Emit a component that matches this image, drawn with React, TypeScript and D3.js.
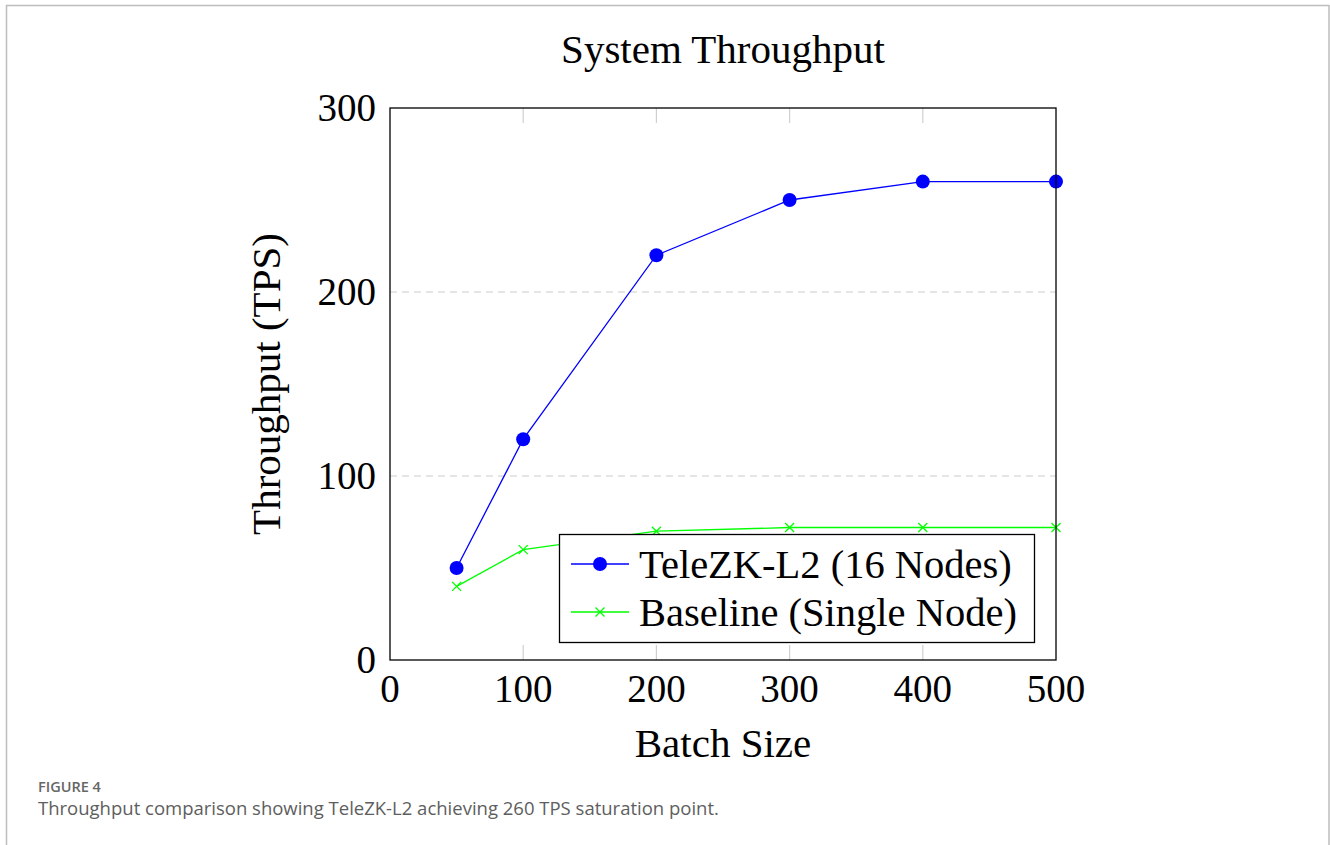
import React, { useEffect, useRef } from "react";
import * as d3 from "d3";

// data
const batchSizes = [50, 100, 200, 300, 400, 500];
const telezk = [50, 120, 220, 250, 260, 260];
const baseline = [40, 60, 70, 72, 72, 72];
const xTicks = [0, 100, 200, 300, 400, 500];
const yTicks = [0, 100, 200, 300];
const seriesNames = ["TeleZK-L2 (16 Nodes)", "Baseline (Single Node)"];

const SERIF = "'Liberation Serif', 'DejaVu Serif', serif";

const App = () => {
  const svgRef = useRef<SVGSVGElement | null>(null);

  const W = 1330;
  const H = 845;
  const plot = { left: 390, top: 108, right: 1056, bottom: 660 };

  useEffect(() => {
    const svg = d3.select(svgRef.current);
    svg.selectAll("*").remove();

    // outer frame of the figure
    svg.append("line").attr("x1", 6).attr("y1", 5.5).attr("x2", 1329).attr("y2", 5.5)
      .attr("stroke", "#bdbdbd").attr("stroke-width", 1.5);
    svg.append("line").attr("x1", 6.5).attr("y1", 5).attr("x2", 6.5).attr("y2", H)
      .attr("stroke", "#bdbdbd").attr("stroke-width", 1.5);
    svg.append("line").attr("x1", 1329).attr("y1", 5).attr("x2", 1329).attr("y2", H)
      .attr("stroke", "#bdbdbd").attr("stroke-width", 1.5);

    const x = d3.scaleLinear().domain([0, 500]).range([plot.left, plot.right]);
    const y = d3.scaleLinear().domain([0, 300]).range([plot.bottom, plot.top]);

    // gridlines
    svg.append("g").selectAll("line")
      .data(yTicks.filter((d) => d > 0 && d < 300))
      .enter().append("line")
      .attr("x1", plot.left).attr("x2", plot.right)
      .attr("y1", (d) => y(d)).attr("y2", (d) => y(d))
      .attr("stroke", "#cccccc").attr("stroke-width", 1)
      .attr("stroke-dasharray", "7,5");

    // inner tick marks (gray)
    const tickG = svg.append("g").attr("stroke", "#d0d0d0").attr("stroke-width", 1.2);
    xTicks.filter((d) => d > 0 && d < 500).forEach((d) => {
      tickG.append("line").attr("x1", x(d)).attr("x2", x(d)).attr("y1", plot.bottom).attr("y2", plot.bottom - 15);
      tickG.append("line").attr("x1", x(d)).attr("x2", x(d)).attr("y1", plot.top).attr("y2", plot.top + 15);
    });

    // tick labels
    svg.append("g").selectAll("text").data(xTicks).enter().append("text")
      .attr("x", (d) => x(d)).attr("y", plot.bottom + 42)
      .attr("text-anchor", "middle")
      .style("font-family", SERIF).style("font-size", "39px")
      .text((d) => d);
    svg.append("g").selectAll("text").data(yTicks).enter().append("text")
      .attr("x", plot.left - 14).attr("y", (d) => y(d) + 13)
      .attr("text-anchor", "end")
      .style("font-family", SERIF).style("font-size", "39px")
      .text((d) => d);

    // lines
    const line = d3.line<number>()
      .x((_, i) => x(batchSizes[i]))
      .y((d) => y(d));

    svg.append("path").datum(baseline).attr("d", line)
      .attr("fill", "none").attr("stroke", "#00ff00").attr("stroke-width", 1.3);
    svg.append("path").datum(telezk).attr("d", line)
      .attr("fill", "none").attr("stroke", "#0000ff").attr("stroke-width", 1.3);

    const cross = (g: any, cx: number, cy: number) => {
      const s = 4.5;
      g.append("path")
        .attr("d", `M${cx - s},${cy - s}L${cx + s},${cy + s}M${cx - s},${cy + s}L${cx + s},${cy - s}`)
        .attr("stroke", "#00ff00").attr("stroke-width", 1.3).attr("fill", "none");
    };

    const bg = svg.append("g");
    baseline.forEach((d, i) => cross(bg, x(batchSizes[i]), y(d)));

    svg.append("g").selectAll("circle").data(telezk).enter().append("circle")
      .attr("cx", (_, i) => x(batchSizes[i])).attr("cy", (d) => y(d))
      .attr("r", 7).attr("fill", "#0000ff");

    // axis frame
    svg.append("rect")
      .attr("x", plot.left).attr("y", plot.top)
      .attr("width", plot.right - plot.left).attr("height", plot.bottom - plot.top)
      .attr("fill", "none").attr("stroke", "#000").attr("stroke-width", 1.3);

    // legend
    const lg = svg.append("g");
    lg.append("rect").attr("x", 559.5).attr("y", 534.5).attr("width", 475).attr("height", 108)
      .attr("fill", "#fff").attr("stroke", "#000").attr("stroke-width", 1.3);
    const rows = [564, 612];
    rows.forEach((ry, i) => {
      lg.append("line").attr("x1", 571).attr("x2", 629).attr("y1", ry).attr("y2", ry)
        .attr("stroke", i === 0 ? "#0000ff" : "#00ff00").attr("stroke-width", 1.3);
      if (i === 0) {
        lg.append("circle").attr("cx", 600).attr("cy", ry).attr("r", 7).attr("fill", "#0000ff");
      } else {
        cross(lg, 600, ry);
      }
      lg.append("text").attr("x", 639).attr("y", ry + 14)
        .style("font-family", SERIF).style("font-size", "40.5px")
        .text(seriesNames[i]);
    });

    // titles
    svg.append("text").attr("x", (plot.left + plot.right) / 2).attr("y", 63)
      .attr("text-anchor", "middle")
      .style("font-family", SERIF).style("font-size", "41px")
      .text("System Throughput");
    svg.append("text").attr("x", (plot.left + plot.right) / 2).attr("y", 757)
      .attr("text-anchor", "middle")
      .style("font-family", SERIF).style("font-size", "41px")
      .text("Batch Size");
    svg.append("text")
      .attr("transform", `translate(280,${(plot.top + plot.bottom) / 2}) rotate(-90)`)
      .attr("text-anchor", "middle")
      .style("font-family", SERIF).style("font-size", "41px")
      .text("Throughput (TPS)");

    // caption
    svg.append("text").attr("x", 38).attr("y", 792)
      .style("font-family", "'Open Sans', sans-serif").style("font-size", "14.5px")
      .style("font-weight", 600)
      .attr("fill", "#666").text("FIGURE 4");
    svg.append("text").attr("x", 38).attr("y", 815)
      .style("font-family", "'Open Sans', sans-serif").style("font-size", "18.5px")
      .attr("fill", "#5e5e5e").text("Throughput comparison showing TeleZK-L2 achieving 260 TPS saturation point.");
  }, []);

  return (
    <svg
      ref={svgRef}
      width={W}
      height={H}
      style={{ position: "absolute", left: 0, top: 0, background: "#fff" }}
    ></svg>
  );
};

export default App;
